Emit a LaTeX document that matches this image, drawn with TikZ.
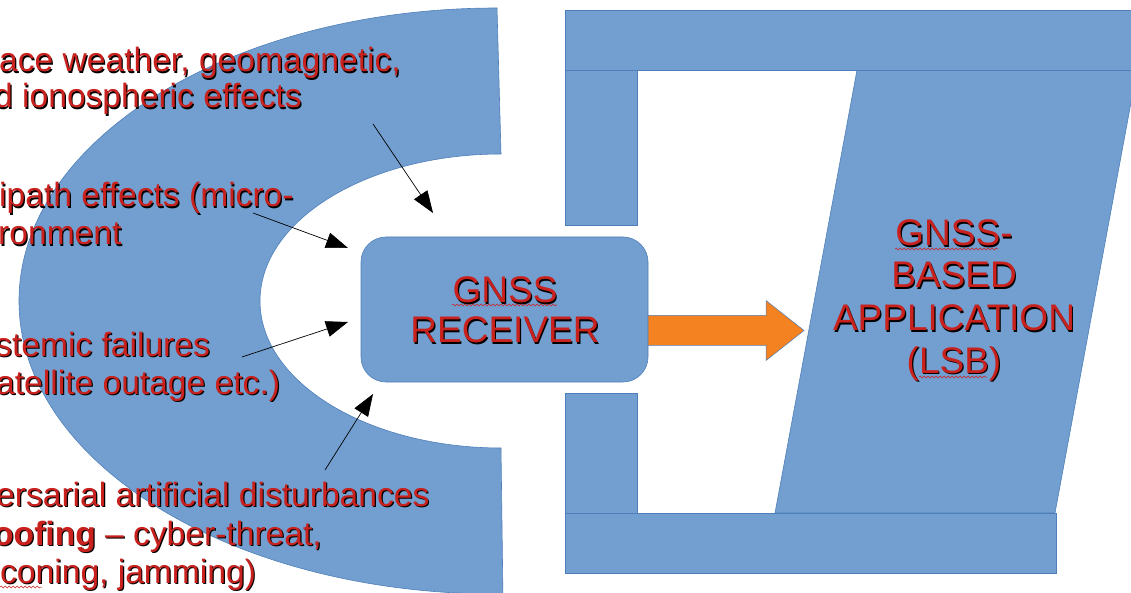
\documentclass[tikz,border=0pt]{standalone}
\usepackage{fontspec}
\setmainfont{Liberation Sans}
\usetikzlibrary{arrows.meta,decorations.pathmorphing}
\definecolor{shapeblue}{HTML}{729FCF}
\definecolor{lineblue}{HTML}{4F7FBA}
\definecolor{txtred}{HTML}{C9211E}
\definecolor{arrorange}{HTML}{F58220}
\newcommand\shtxt[4][]{%
  \node[shd,#1] at ([xshift=1.2pt,yshift=-1.2pt]#3) {#4};
  \node[mtxt,#1] (#2) at (#3) {#4};}
\begin{document}
\begin{tikzpicture}[x=1pt,y=1pt,
  blueshape/.style={fill=shapeblue,draw=lineblue,line width=0.6pt},
  shd/.style={text=black,inner sep=0pt},
  mtxt/.style={text=txtred,inner sep=0pt},
  big/.style={font=\fontsize{37}{42}\selectfont,anchor=base},
  lft/.style={font=\fontsize{33.6}{38}\selectfont,anchor=base west},
  blk/.style={draw=black,line width=0.7pt,-{Triangle[length=22pt,width=16pt]}},
  wavy/.style={draw=txtred,line width=0.5pt,decorate,decoration={snake,segment length=4pt,amplitude=1pt}}]
\useasboundingbox (0,0) rectangle (1131,592);
\clip (0,0) rectangle (1131,592);
% half annulus
\path[blueshape] (497,584) arc[start angle=90,end angle=270,x radius=478,y radius=293]
  -- (503,-10) -- (501,144) arc[start angle=270,end angle=90,x radius=241,y radius=147] -- cycle;
% right frame
\path[blueshape] (565,522) rectangle (637,367);
\path[blueshape] (565,199) rectangle (637,79);
\path[blueshape] (857,522) -- (1137,522) -- (1055,79) -- (775,79) -- cycle;
\path[blueshape] (565,582) rectangle (1140,522);
\path[blueshape] (565,79) rectangle (1056,19);
% receiver
\node[blueshape,rounded corners=25pt,minimum width=287pt,minimum height=145pt,inner sep=0pt] (rec) at (504.5,282.5) {};
% orange arrow
\coordinate (oa) at (648,276.5);
\path[fill=arrorange,draw=lineblue,line width=0.5pt] (oa) -- ++(118,0) -- ++(0,15) -- ++(38,-30) -- ++(-38,-30) -- ++(0,15) -- ++(-118,0) -- cycle;
% receiver text
\shtxt[big]{r1}{505,289}{GNSS}
\shtxt[big]{r2}{505,249}{RECEIVER}
% application text
\shtxt[big]{p1}{954,346}{GNSS-}
\shtxt[big]{p2}{954,304}{BASED}
\shtxt[big]{p3}{954,261}{APPLICATION}
\shtxt[big]{p4}{954,219}{(LSB)}
% left texts
\shtxt[lft]{t1}{-1,520}{ace weather, geomagnetic,}
\shtxt[lft]{t2}{-6,484}{d ionospheric effects}
\shtxt[lft]{t3}{-1,385}{ipath effects (micro-}
\shtxt[lft]{t4}{-2,347}{ronment}
\shtxt[lft]{t5}{-5,236}{stemic failures}
\shtxt[lft]{t6}{-4,198}{atellite outage etc.)}
\shtxt[lft]{t7}{-4,86}{ersarial artificial disturbances}
\shtxt[lft]{t8}{-7,47}{\textbf{oofing} – cyber-threat,}
\shtxt[lft]{t9}{0,9}{coning, jamming)}
% spell-check wavy underlines
\coordinate (w1a) at (452,287); \coordinate (w1b) at (557,287);
\coordinate (w2a) at (895,343); \coordinate (w2b) at (998,343);
\coordinate (w3a) at (919,215); \coordinate (w3b) at (987,215);
\coordinate (w4a) at (0,5); \coordinate (w4b) at (42,5);
\path[wavy] (w1a) -- (w1b);
\path[wavy] (w2a) -- (w2b);
\path[wavy] (w3a) -- (w3b);
\path[wavy] (w4a) -- (w4b);
% black arrows
\coordinate (s1) at (373,468); \coordinate (e1) at (433,379);
\coordinate (s2) at (253,379); \coordinate (e2) at (348,344);
\coordinate (s3) at (242,235); \coordinate (e3) at (348,270);
\coordinate (s4) at (325,122); \coordinate (e4) at (373,198);
\draw[blk] (s1) -- (e1);
\draw[blk] (s2) -- (e2);
\draw[blk] (s3) -- (e3);
\draw[blk] (s4) -- (e4);
\end{tikzpicture}
\end{document}
